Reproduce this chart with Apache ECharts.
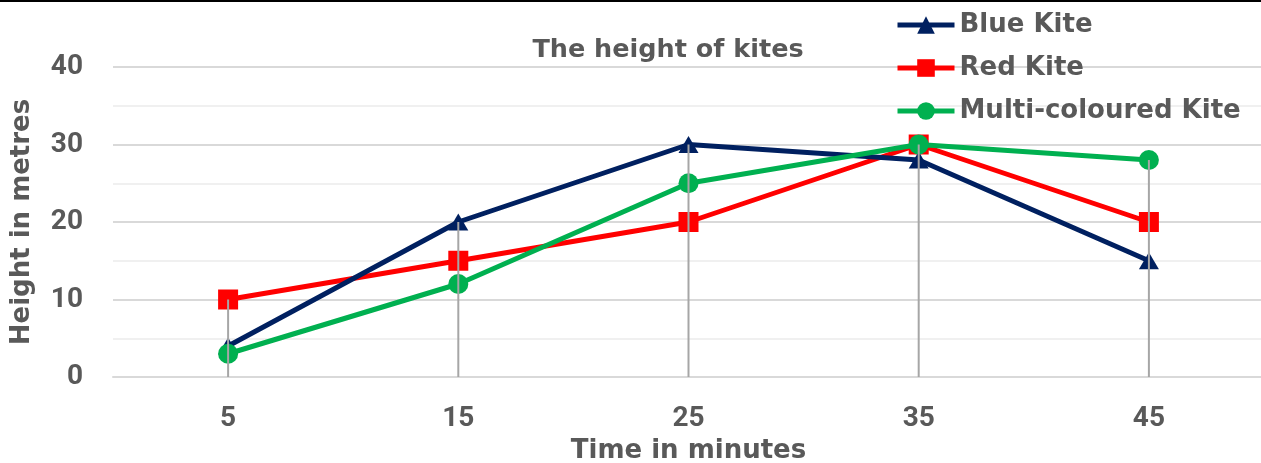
<!DOCTYPE html>
<html>
<head>
<meta charset="utf-8">
<script src="https://cdn.jsdelivr.net/npm/echarts@6/dist/echarts.min.js"></script>
<style>
  html, body { margin: 0; padding: 0; background: #fff; }
  #chart { width: 1261px; height: 463px; }
</style>
</head>
<body>
<div id="chart"></div>
<script>
// Kite heights recorded every ten minutes
const minutes = ['5', '15', '25', '35', '45'];
const blueKite = [4, 20, 30, 28, 15];
const redKite = [10, 15, 20, 30, 20];
const multiKite = [3, 12, 25, 30, 28];
const yTicks = [0, 10, 20, 30, 40];

// Drop line for each time runs from the highest kite down to the axis
const dropTops = minutes.map((m, i) => [i, Math.max(blueKite[i], redKite[i], multiKite[i])]);

const FONT = 'DejaVu Sans';
const NUM_FONT = 'Roboto';
const TEXT = '#595959';

const chart = echarts.init(document.getElementById('chart'), null, { renderer: 'canvas' });

chart.setOption({
  animation: false,
  backgroundColor: '#ffffff',
  textStyle: { fontFamily: FONT },
  graphic: [{
    type: 'rect',
    left: 0, top: 0,
    shape: { width: 1261, height: 2 },
    style: { fill: '#000000' },
    z: 100
  }],
  title: {
    text: 'The height of kites',
    left: 668,
    top: 37,
    padding: 0,
    textAlign: 'center',
    textStyle: { fontFamily: FONT, fontSize: 25.5, fontWeight: 'bold', color: TEXT }
  },
  legend: {
    data: ['Blue Kite', 'Red Kite', 'Multi-coloured Kite'],
    orient: 'vertical',
    left: 895,
    top: 12,
    padding: 0,
    itemWidth: 57,
    itemHeight: 22,
    itemGap: 17,
    lineStyle: { width: 5 },
    textStyle: { fontFamily: FONT, fontSize: 26, fontWeight: 'bold', color: TEXT }
  },
  grid: { left: 113, top: 67, width: 1151, height: 310, containLabel: false, outerBoundsMode: 'none' },
  xAxis: {
    type: 'category',
    data: minutes,
    boundaryGap: true,
    name: 'Time in minutes',
    nameLocation: 'middle',
    nameGap: 58,
    nameTextStyle: { fontFamily: FONT, fontSize: 26, fontWeight: 'bold', color: TEXT },
    axisLine: { show: true, lineStyle: { color: '#d9d9d9', width: 2 } },
    axisTick: { show: false },
    axisLabel: { margin: 28, fontFamily: NUM_FONT, fontSize: 28, fontWeight: 'bold', color: TEXT },
    splitLine: { show: false }
  },
  yAxis: {
    type: 'value',
    min: yTicks[0],
    max: yTicks[yTicks.length - 1],
    interval: 10,
    name: 'Height in metres',
    nameLocation: 'middle',
    nameGap: 78,
    nameRotate: 90,
    nameTextStyle: { fontFamily: FONT, fontSize: 26, fontWeight: 'bold', color: TEXT },
    axisLine: { show: false },
    axisTick: { show: false },
    axisLabel: { margin: 30, fontFamily: NUM_FONT, fontSize: 28, fontWeight: 'bold', color: TEXT },
    splitLine: { show: true, lineStyle: { color: '#d9d9d9', width: 2 } },
    minorTick: { show: false, splitNumber: 2 },
    minorSplitLine: { show: true, lineStyle: { color: '#f0f0f0', width: 2 } }
  },
  series: [
    {
      name: 'Blue Kite',
      type: 'line',
      data: blueKite,
      symbol: 'triangle',
      symbolSize: [20, 17],
      color: '#002060',
      lineStyle: { width: 5, color: '#002060' },
      itemStyle: { color: '#002060' },
      z: 3
    },
    {
      name: 'Red Kite',
      type: 'line',
      data: redKite,
      symbol: 'rect',
      symbolSize: 20,
      color: '#ff0000',
      lineStyle: { width: 5, color: '#ff0000' },
      itemStyle: { color: '#ff0000' },
      z: 2
    },
    {
      name: 'Multi-coloured Kite',
      type: 'line',
      data: multiKite,
      symbol: 'circle',
      symbolSize: 20,
      color: '#00b050',
      lineStyle: { width: 5, color: '#00b050' },
      itemStyle: { color: '#00b050' },
      z: 4
    },
    {
      name: 'drop',
      type: 'custom',
      data: dropTops,
      z: 10,
      silent: true,
      renderItem: function (params, api) {
        const top = api.coord([api.value(0), api.value(1)]);
        const bottom = api.coord([api.value(0), 0]);
        return {
          type: 'line',
          shape: { x1: top[0], y1: top[1], x2: bottom[0], y2: bottom[1] },
          style: { stroke: '#a6a6a6', lineWidth: 2 }
        };
      }
    }
  ]
});
</script>
</body>
</html>
